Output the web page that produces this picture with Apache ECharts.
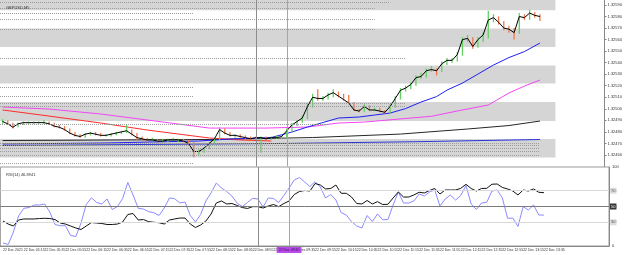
<!DOCTYPE html>
<html>
<head>
<meta charset="utf-8">
<title>GBPUSD,M5</title>
<script src="https://cdn.jsdelivr.net/npm/echarts@6/dist/echarts.min.js"></script>
<style>
  html, body { margin: 0; padding: 0; background: #fff; }
  #chart { width: 625px; height: 255px; }
</style>
</head>
<body>
<div id="chart"></div>
<script>
// GBPUSD 5-minute bars, 22 Dec 2021
const timeLabels = ['22 Dec 2021', '22 Dec 05:15', '22 Dec 05:35', '22 Dec 05:55', '22 Dec 06:15', '22 Dec 06:35',
  '22 Dec 06:55', '22 Dec 07:15', '22 Dec 07:35', '22 Dec 07:55', '22 Dec 08:15', '22 Dec 08:35', '22 Dec 08:55',
  '22 Dec 09:15', '22 Dec 09:35', '22 Dec 09:55', '22 Dec 10:15', '22 Dec 10:35', '22 Dec 10:55', '22 Dec 11:15',
  '22 Dec 11:35', '22 Dec 11:55', '22 Dec 12:15', '22 Dec 12:35', '22 Dec 12:55', '22 Dec 13:15', '22 Dec 13:35'];

const closes = [
  1.32489, 1.32487, 1.32484, 1.32487, 1.32488, 1.32488, 1.32488, 1.32488, 1.32488, 1.32487,
  1.32485, 1.32484, 1.32482, 1.32479, 1.32477, 1.32476, 1.32478, 1.32479, 1.32478, 1.32477,
  1.32477, 1.32478, 1.32479, 1.32480, 1.32481, 1.32478, 1.32475, 1.32474, 1.32473, 1.32473,
  1.32472, 1.32472, 1.32473, 1.32473, 1.32473, 1.32472, 1.32470, 1.32463, 1.32463, 1.32466,
  1.32470, 1.32474, 1.32482, 1.32479, 1.32477, 1.32477, 1.32476, 1.32475, 1.32474, 1.32475,
  1.32475, 1.32474, 1.32475, 1.32475, 1.32476, 1.32481, 1.32486, 1.32489, 1.32492, 1.32502,
  1.32510, 1.32509, 1.32509, 1.32512, 1.32514, 1.32511, 1.32508, 1.32505, 1.32499, 1.32498,
  1.32502, 1.32499, 1.32499, 1.32498, 1.32497, 1.32502, 1.32509, 1.32516, 1.32518, 1.32521,
  1.32527, 1.32528, 1.32533, 1.32534, 1.32533, 1.32539, 1.32542, 1.32542, 1.32547, 1.32560,
  1.32561, 1.32554, 1.32560, 1.32564, 1.32577, 1.32579, 1.32575, 1.32570, 1.32569, 1.32566,
  1.32580, 1.32579, 1.32583, 1.32581, 1.32580];

const highs = [
  1.32491, 1.32490, 1.32488, 1.32488, 1.32489, 1.32489, 1.32489, 1.32489, 1.32490, 1.32489,
  1.32488, 1.32486, 1.32485, 1.32483, 1.32480, 1.32478, 1.32479, 1.32480, 1.32480, 1.32479,
  1.32478, 1.32479, 1.32480, 1.32481, 1.32486, 1.32482, 1.32479, 1.32476, 1.32475, 1.32475,
  1.32474, 1.32474, 1.32474, 1.32475, 1.32474, 1.32474, 1.32473, 1.32471, 1.32465, 1.32467,
  1.32471, 1.32475, 1.32484, 1.32483, 1.32480, 1.32478, 1.32478, 1.32477, 1.32476, 1.32476,
  1.32476, 1.32476, 1.32476, 1.32477, 1.32478, 1.32483, 1.32488, 1.32490, 1.32494, 1.32505,
  1.32513, 1.32517, 1.32511, 1.32514, 1.32517, 1.32515, 1.32513, 1.32512, 1.32506, 1.32500,
  1.32504, 1.32503, 1.32501, 1.32501, 1.32499, 1.32504, 1.32511, 1.32518, 1.32520, 1.32523,
  1.32529, 1.32531, 1.32535, 1.32537, 1.32535, 1.32541, 1.32544, 1.32544, 1.32549, 1.32562,
  1.32564, 1.32562, 1.32562, 1.32566, 1.32585, 1.32582, 1.32580, 1.32576, 1.32572, 1.32570,
  1.32583, 1.32582, 1.32586, 1.32584, 1.32582];

const lows = [
  1.32487, 1.32486, 1.32483, 1.32484, 1.32486, 1.32487, 1.32487, 1.32487, 1.32487, 1.32486,
  1.32484, 1.32483, 1.32481, 1.32478, 1.32476, 1.32475, 1.32475, 1.32477, 1.32477, 1.32476,
  1.32476, 1.32476, 1.32477, 1.32478, 1.32479, 1.32477, 1.32473, 1.32473, 1.32471, 1.32472,
  1.32470, 1.32471, 1.32471, 1.32472, 1.32471, 1.32471, 1.32469, 1.32458, 1.32460, 1.32462,
  1.32465, 1.32469, 1.32473, 1.32478, 1.32476, 1.32475, 1.32475, 1.32473, 1.32472, 1.32473,
  1.32462, 1.32473, 1.32473, 1.32474, 1.32474, 1.32475, 1.32480, 1.32485, 1.32488, 1.32491,
  1.32501, 1.32507, 1.32507, 1.32508, 1.32510, 1.32510, 1.32507, 1.32504, 1.32498, 1.32497,
  1.32497, 1.32498, 1.32498, 1.32497, 1.32496, 1.32496, 1.32501, 1.32508, 1.32515, 1.32517,
  1.32520, 1.32526, 1.32527, 1.32532, 1.32529, 1.32532, 1.32538, 1.32540, 1.32541, 1.32546,
  1.32558, 1.32552, 1.32553, 1.32558, 1.32561, 1.32575, 1.32573, 1.32568, 1.32566, 1.32560,
  1.32565, 1.32577, 1.32577, 1.32579, 1.32576];

// moving averages as [bar, price]
const maFast = [[0, 1.324695], [20, 1.324704], [38, 1.324721], [44, 1.324738], [52, 1.324751], [56, 1.324799],
  [59, 1.324842], [62, 1.324881], [65, 1.324920], [69, 1.324929], [72, 1.324946], [75, 1.324963], [78, 1.325002],
  [81, 1.325059], [84, 1.325106], [86, 1.325162], [89, 1.325223], [92, 1.325301], [95, 1.325379], [98, 1.325444],
  [101, 1.325496], [104, 1.325570]];
const maSlowBlue = [[0, 1.324682], [55, 1.324700], [80, 1.324715], [104, 1.324734]];
const maBlack = [[0, 1.324725], [40, 1.324734], [60, 1.324751], [77, 1.324781], [90, 1.324825], [98, 1.324855], [104, 1.324894]];
const maMagenta = [[0, 1.325015], [9, 1.324998], [19, 1.324955], [28, 1.324903], [40, 1.324833], [51, 1.324833],
  [59, 1.324842], [65, 1.324877], [70, 1.324885], [79, 1.324920], [83, 1.324935], [88, 1.324981], [94, 1.325033],
  [98, 1.325137], [101, 1.325197], [104, 1.325249]];
const maRed = [[0, 1.324990], [9, 1.324937], [19, 1.324877], [28, 1.324816], [40, 1.324747], [46, 1.324730], [52, 1.324721]];

// zones [low, high] and dotted levels [price, last bar]
const zones = [[1.325855, 1.32600], [1.325535, 1.325695], [1.325219, 1.325375], [1.324894, 1.325059], [1.324578, 1.324738]];
const zoneEnd = 107;
const levels = [[1.32592, 75], [1.32587, 72], [1.32583, 37], [1.32578, 72], [1.32569, 72], [1.32544, 78],
  [1.32519, 37], [1.32511, 37], [1.32505, 78], [1.32502, 78], [1.32487, 63], [1.32470, 104], [1.32468, 104],
  [1.32466, 104], [1.32463, 104], [1.32460, 104], [1.32453, 37]];
const priceNow = 1.32580;

const rsiBlack = [
  31.6, 27.8, 25.3, 32.9, 34.2, 34.2, 34.2, 34.8, 35.1, 34.8,
  33.5, 29.1, 27.8, 25.3, 22.8, 20.9, 25.3, 29.7, 29.1, 28.5,
  27.2, 27.2, 27.8, 30.4, 39.9, 41.1, 32.9, 33.5, 30.8, 30.0,
  29.5, 27.8, 32.9, 34.2, 35.4, 35.4, 27.8, 23.4, 26.6, 31.6,
  40.5, 54.4, 57.0, 53.2, 53.8, 51.3, 48.7, 47.5, 49.8, 49.8,
  48.1, 50.6, 52.5, 49.8, 53.8, 57.0, 65.2, 69.0, 70.3, 69.6,
  79.1, 77.2, 72.2, 72.8, 77.2, 66.7, 66.7, 62.0, 53.8, 53.2,
  57.6, 53.2, 56.1, 52.5, 52.8, 60.8, 68.4, 62.0, 62.0, 64.6,
  68.0, 67.1, 70.3, 72.8, 65.8, 70.9, 70.9, 70.9, 73.0, 78.1,
  72.8, 69.6, 72.8, 73.0, 78.2, 78.5, 74.1, 72.2, 69.6, 64.6,
  70.9, 69.6, 72.2, 68.0, 67.5];
const rsiBlue = [
  3.8, 1.9, 17.7, 38.0, 47.7, 48.7, 51.9, 51.9, 53.2, 43.0,
  27.2, 25.7, 25.7, 13.3, 12.0, 29.1, 52.5, 61.0, 55.1, 53.2,
  59.5, 46.2, 50.0, 60.1, 80.4, 64.6, 47.7, 46.8, 43.4, 42.2,
  38.6, 48.1, 60.8, 59.9, 54.4, 55.7, 38.6, 30.4, 39.9, 57.0,
  67.1, 79.7, 73.4, 69.0, 63.3, 54.4, 50.0, 55.1, 60.4, 59.5,
  49.4, 60.8, 60.1, 55.1, 63.9, 73.4, 83.6, 86.7, 81.0, 75.3,
  81.4, 74.7, 60.8, 65.2, 58.2, 42.4, 39.2, 31.0, 25.3, 22.8,
  38.6, 31.0, 40.5, 33.2, 33.5, 51.9, 68.4, 54.4, 54.4, 57.0,
  65.8, 63.3, 68.4, 70.9, 50.6, 59.5, 64.6, 58.2, 63.9, 76.6,
  53.2, 46.2, 54.4, 55.3, 69.6, 70.9, 60.8, 35.1, 35.4, 24.7,
  49.8, 45.6, 51.9, 39.2, 39.2];
const rsiTicks = [0, 30, 50, 70, 100];

const slots = 117;
const grayBar = 49;
const purpleBar = 55;
const purpleLabel = '22 Dec 09:30';

const categories = [];
for (let i = 0; i < slots; i++) {
  categories.push(i % 4 === 0 && timeLabels[i / 4] ? timeLabels[i / 4] : '');
}

const font = 'Liberation Sans';
const smallText = { fontSize: 4, fontFamily: font, color: '#333' };

const chart = echarts.init(document.getElementById('chart'));

const vLines = [
  { xAxis: grayBar, lineStyle: { color: '#8c8c8c', width: 1, type: 'solid' } },
  { xAxis: purpleBar, lineStyle: { color: '#c58ae6', width: 1, type: 'solid' } }
];

const maLine = (data, color, z) => ({
  type: 'line', xAxisIndex: 0, yAxisIndex: 0, data: data, symbol: 'none', silent: true, z: z,
  lineStyle: { color: color, width: 1 }
});

const option = {
  animation: false,
  title: [
    { text: 'GBPUSD,M5', left: 1, top: 1, textStyle: { ...smallText, fontWeight: 'normal' } },
    { text: 'RSI(14) 46.8941', left: 1, top: 168, textStyle: { ...smallText, fontWeight: 'normal' } }
  ],
  grid: [
    { left: 0, right: 16, top: 0, bottom: 88.5 },
    { left: 0, right: 16, top: 167, bottom: 9, show: true, borderColor: '#9a9a9a', borderWidth: 1 }
  ],
  xAxis: [
    { type: 'category', gridIndex: 0, data: categories, boundaryGap: true, show: false },
    {
      type: 'category', gridIndex: 1, data: categories, boundaryGap: true,
      axisLine: { lineStyle: { color: '#888' } },
      axisTick: { length: 2, interval: (i, v) => v !== '', lineStyle: { color: '#888' } },
      axisLabel: { ...smallText, fontSize: 3.5, interval: 0, align: 'left', margin: 2 }
    }
  ],
  yAxis: [
    {
      type: 'value', gridIndex: 0, position: 'right', min: 1.3245, max: 1.325943, interval: 0.0001,
      splitLine: { show: false },
      axisLine: { show: true, lineStyle: { color: '#888' } },
      axisTick: { show: true, length: 2, lineStyle: { color: '#888' } },
      axisLabel: { ...smallText, margin: 3, showMinLabel: false, showMaxLabel: false, formatter: v => v.toFixed(5) }
    },
    {
      type: 'value', gridIndex: 1, position: 'right', min: 0, max: 100, interval: 10,
      splitLine: { show: false },
      axisLine: { show: true, lineStyle: { color: '#888' } },
      axisTick: { show: false },
      axisLabel: { ...smallText, margin: 3, formatter: v => (rsiTicks.includes(v) ? String(v) : '') }
    }
  ],
  series: [
    {
      // zones, dotted levels, current price and time markers
      type: 'line', xAxisIndex: 0, yAxisIndex: 0, data: closes, symbol: 'none', silent: true, z: 1,
      lineStyle: { opacity: 0 },
      markArea: {
        silent: true,
        itemStyle: { color: '#d5d5d5' },
        data: zones.map(z => [{ yAxis: z[0] }, { xAxis: zoneEnd, yAxis: z[1] }])
      },
      markLine: {
        silent: true, symbol: 'none', animation: false,
        lineStyle: { color: '#9c9c9c', width: 1, type: 'dotted' },
        label: { show: false },
        data: levels.map(l => [{ x: 0, yAxis: l[0] }, { xAxis: l[1], yAxis: l[0] }]).concat([
          {
            yAxis: priceNow, lineStyle: { color: '#9a9a9a', type: 'solid', width: 1 },
            label: {
              show: true, position: 'end', distance: 1, formatter: priceNow.toFixed(5),
              fontSize: 4, fontFamily: font, color: '#fff', backgroundColor: '#111', padding: [1, 1]
            }
          }
        ]).concat(vLines)
      }
    },
    maLine(maSlowBlue, '#2b35d8', 2),
    maLine(maBlack, '#262626', 2),
    maLine(maRed, '#ff2b2b', 2),
    maLine(maMagenta, '#f246f2', 2),
    maLine(maFast, '#1f1ff5', 2),
    {
      type: 'custom', xAxisIndex: 0, yAxisIndex: 0, silent: true, z: 3,
      data: closes.map((c, i) => [i, lows[i], highs[i]]),
      encode: { x: 0, y: [1, 2] },
      renderItem: (params, api) => {
        const i = api.value(0);
        const lo = api.coord([i, api.value(1)]);
        const hi = api.coord([i, api.value(2)]);
        const up = i === 0 || closes[i] >= closes[i - 1];
        return {
          type: 'line',
          shape: { x1: lo[0], y1: lo[1], x2: hi[0], y2: hi[1] },
          style: { stroke: up ? '#62d062' : '#f2784a', lineWidth: 1.3 }
        };
      }
    },
    {
      type: 'line', xAxisIndex: 0, yAxisIndex: 0, data: closes, symbol: 'none', silent: true, z: 4,
      lineStyle: { color: '#000', width: 1 }
    },
    {
      type: 'line', xAxisIndex: 1, yAxisIndex: 1, data: rsiBlue, symbol: 'none', silent: true, z: 3,
      lineStyle: { color: '#8a8aff', width: 1 },
      markLine: {
        silent: true, symbol: 'none', animation: false,
        label: { show: false },
        data: [
          {
            yAxis: 70, lineStyle: { color: '#d8d8d8', width: 1, type: 'solid' },
            label: { show: true, position: 'end', distance: 1, formatter: '70', fontSize: 4, fontFamily: font, color: '#555', backgroundColor: '#dcdcdc', padding: [1, 1] }
          },
          {
            yAxis: 50, lineStyle: { color: '#7a7a7a', width: 1, type: 'solid' },
            label: { show: true, position: 'end', distance: 1, formatter: '50', fontSize: 4, fontFamily: font, color: '#fff', backgroundColor: '#333', padding: [1, 1] }
          },
          {
            yAxis: 30, lineStyle: { color: '#d8d8d8', width: 1, type: 'solid' },
            label: { show: true, position: 'end', distance: 1, formatter: '30', fontSize: 4, fontFamily: font, color: '#555', backgroundColor: '#dcdcdc', padding: [1, 1] }
          },
          { xAxis: grayBar, lineStyle: { color: '#8c8c8c', width: 1, type: 'solid' } },
          {
            xAxis: purpleBar, lineStyle: { color: '#c58ae6', width: 1, type: 'solid' },
            label: {
              show: true, position: 'start', distance: 1, formatter: purpleLabel,
              fontSize: 3.5, fontFamily: font, color: '#3a0a5a', backgroundColor: '#b84ce8', padding: [1, 2]
            }
          }
        ]
      }
    },
    {
      type: 'line', xAxisIndex: 1, yAxisIndex: 1, data: rsiBlack, symbol: 'none', silent: true, z: 4,
      lineStyle: { color: '#111', width: 1 }
    }
  ]
};

chart.setOption(option);

window.addEventListener('resize', () => {
  chart.resize();
});
</script>
</body>
</html>
